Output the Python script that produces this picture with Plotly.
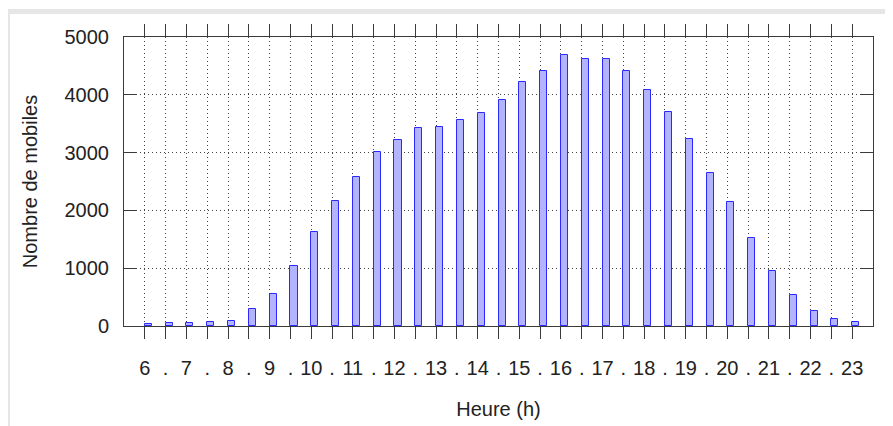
import plotly.graph_objects as go

# half-hour slots from 6h to 23h
heures = [6 + 0.5 * i for i in range(35)]
mobiles = [30, 47, 45, 64, 81, 294, 559, 1033, 1632, 2157,
           2578, 3016, 3218, 3420, 3449, 3564, 3680, 3910, 4227, 4417,
           4689, 4614, 4614, 4417, 4083, 3708, 3235, 2647, 2140, 1517,
           951, 531, 265, 121, 69]
y_ticks = [0, 1000, 2000, 3000, 4000, 5000]
x_labels = [str(int(h)) if h == int(h) else "." for h in heures]

FONT = "Liberation Sans"
INK = "#222222"
AXE = "#3a3a3a"

fig = go.Figure(go.Bar(
    x=heures, y=mobiles,
    offset=0, width=0.17,
    marker=dict(color="#b3b3ff", line=dict(color="#2a2aff", width=1)),
))

# the page body adds 8px, so margins are shifted by that amount
fig.update_layout(
    width=893, height=426,
    margin=dict(l=116, r=28, t=29, b=108),
    plot_bgcolor="white", paper_bgcolor="white",
    showlegend=False,
    font=dict(family=FONT, size=20, color=INK),
    bargap=0,
)

fig.update_xaxes(
    range=[5.5, 23.5],
    tickvals=heures, ticktext=x_labels,
    ticks="outside", ticklen=12, tickcolor=AXE, tickwidth=1,
    showline=True, linecolor=AXE, linewidth=1, mirror="ticks",
    showgrid=True, gridcolor="#444444", gridwidth=1, griddash="1px,3px",
    zeroline=False, automargin=False,
    ticklabelstandoff=12,
    title=dict(text="Heure (h)", standoff=23, font=dict(size=20)),
)
fig.update_yaxes(
    range=[0, 5000],
    tickvals=y_ticks,
    ticks="inside", ticklen=12, tickcolor=AXE, tickwidth=1,
    showline=True, linecolor=AXE, linewidth=1, mirror="ticks",
    showgrid=True, gridcolor="#444444", gridwidth=1, griddash="1px,3px",
    zeroline=False, automargin=False,
    ticklabelstandoff=10,
    title=dict(text="Nombre de mobiles", standoff=21, font=dict(size=20)),
)

# light grey frame shadow along the top and left edges (page pixels)
W, H = 749.0, 289.0
def px(x):
    return (x - 124) / W
def py(y):
    return (326 - y) / H

fig.add_shape(type="rect", xref="paper", yref="paper",
              x0=px(8), x1=px(10), y0=py(434), y1=py(10),
              fillcolor="#e6e6e6", line_width=0, layer="below")
fig.add_shape(type="rect", xref="paper", yref="paper",
              x0=px(8), x1=px(901), y0=py(14), y1=py(9),
              fillcolor="#e6e6e6", line_width=0, layer="below")

fig.write_html("out.html")
